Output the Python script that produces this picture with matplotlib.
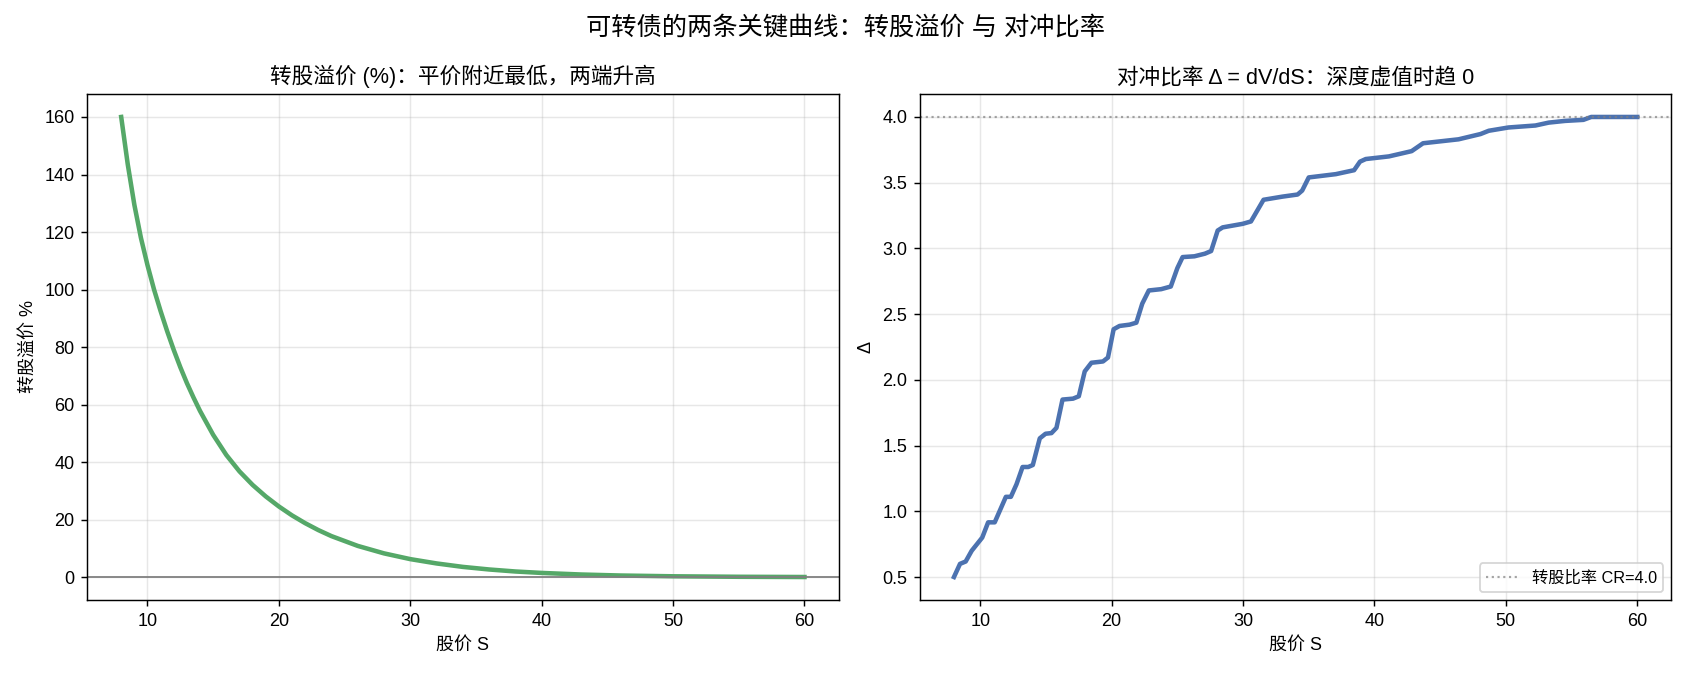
import numpy as np
import matplotlib
matplotlib.use("Agg")
import matplotlib.pyplot as plt

plt.rcParams['font.family'] = ['Liberation Sans', 'Noto Sans CJK SC', 'DejaVu Sans']
plt.rcParams['axes.unicode_minus'] = False

# 转股溢价 (%) vs 股价
premS = [8, 8.5, 9, 9.5, 10, 10.5, 11, 11.5, 12, 12.5, 13, 13.5, 14, 15, 16, 17, 18, 19, 20,
         21, 22, 23, 24, 26, 28, 30, 32, 34, 36, 38, 40, 43, 46, 50, 55, 60]
premVal = [160, 143.5, 129.5, 118, 108.5, 100, 92.5, 85.5, 79, 73, 67.5, 62.5, 57.8, 49.5,
           42.5, 36.8, 32.1, 28.1, 24.6, 21.5, 18.8, 16.4, 14.3, 10.9, 8.3, 6.3, 4.8, 3.6,
           2.7, 2.0, 1.5, 0.95, 0.6, 0.33, 0.16, 0.08]

# 对冲比率 Δ vs 股价
deltaS = [8.0, 8.46, 8.89, 9.35, 10.15, 10.6, 11.1, 11.95, 12.33, 12.76,
          13.22, 13.65, 14.0, 14.53, 14.97, 15.42, 15.8, 16.26, 17.06, 17.5,
          17.95, 18.46, 19.34, 19.72, 20.15, 20.6, 21.37, 21.88, 22.33, 22.83,
          23.77, 24.5, 25.0, 25.4, 26.3, 27.1, 27.57, 28.07, 28.45, 29.97,
          30.6, 31.56, 33.0, 34.15, 34.5, 35.0, 37.06, 38.45, 38.9, 39.34,
          41.1, 42.83, 43.7, 46.4, 48.07, 48.7, 50.2, 52.25, 53.26, 54.5,
          55.9, 56.5, 60.0]
deltaVal = [0.5, 0.60, 0.618, 0.70, 0.80, 0.916, 0.916, 1.11, 1.11, 1.206,
            1.337, 1.337, 1.352, 1.555, 1.59, 1.595, 1.635, 1.85, 1.857, 1.875,
            2.064, 2.13, 2.14, 2.17, 2.385, 2.41, 2.42, 2.435, 2.58, 2.68,
            2.69, 2.71, 2.85, 2.934, 2.94, 2.96, 2.98, 3.136, 3.16, 3.187,
            3.205, 3.37, 3.394, 3.41, 3.44, 3.54, 3.565, 3.595, 3.66, 3.68,
            3.70, 3.74, 3.80, 3.83, 3.87, 3.895, 3.92, 3.935, 3.957, 3.97,
            3.978, 4.0, 4.0]
CR = 4.0

fig, (ax1, ax2) = plt.subplots(1, 2, figsize=(13, 5.2), dpi=130)
fig.subplots_adjust(left=0.0515, right=0.989, bottom=0.1124, top=0.861, wspace=0.108)

ax1.plot(premS, premVal, color='#55a868', lw=2.5)
ax1.axhline(0, color='gray', lw=1)
ax1.set_title('转股溢价 (%)：平价附近最低，两端升高', fontsize=12)
ax1.set_xlabel('股价 S')
ax1.set_ylabel('转股溢价 %')
ax1.grid(True, alpha=0.3)

ax2.plot(deltaS, deltaVal, color='#4c72b0', lw=2.5)
ax2.axhline(CR, color='gray', ls=':', lw=1.2, alpha=0.7, label='转股比率 CR=4.0')
ax2.set_title('对冲比率 Δ = dV/dS：深度虚值时趋 0', fontsize=12)
ax2.set_xlabel('股价 S')
ax2.set_ylabel('Δ')
ax2.grid(True, alpha=0.3)
ax2.legend(loc='lower right', fontsize=9)

fig.suptitle('可转债的两条关键曲线：转股溢价 与 对冲比率', fontsize=14, y=0.977)
fig.savefig('out.png', dpi=130)
